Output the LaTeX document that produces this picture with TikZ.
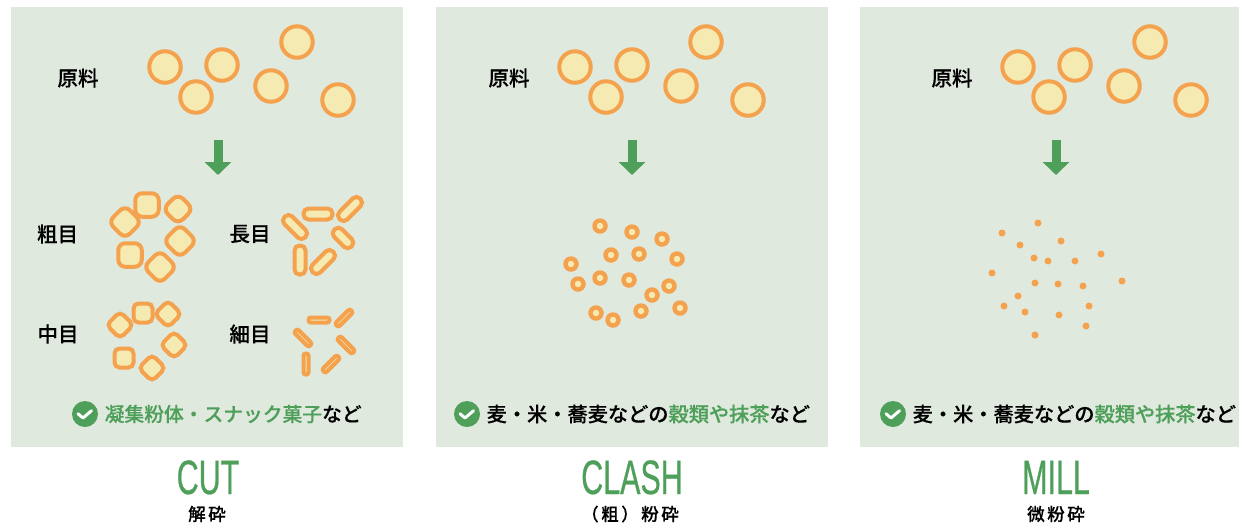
\documentclass[tikz,border=0pt]{standalone}
\usepackage{fontspec}
\setmainfont{Noto Sans CJK JP}[BoldFont={Noto Sans CJK JP Medium},BoldFeatures={FakeBold=0.25}]
\newfontfamily\titlefont[FakeStretch=0.63,FakeBold=0.5]{Liberation Sans}
\usetikzlibrary{arrows.meta,positioning}
\definecolor{pgpanel}{RGB}{224,233,222}
\definecolor{pggreen}{RGB}{78,159,89}
\definecolor{pgorange}{RGB}{244,162,78}
\definecolor{pgyellow}{RGB}{245,234,178}
\tikzstyle{panel} = [rectangle, anchor=north west, fill=pgpanel, minimum height=8.8cm, minimum width=7.84cm, inner sep=0]
\tikzstyle{grain} = [draw=pgorange, fill=pgyellow, line width=0.08cm, inner sep=0]
\tikzstyle{rawgrain} = [grain, circle, minimum size=0.63cm]
\tikzstyle{coarse} = [grain, rectangle, rounded corners=0.14cm, minimum size=0.47cm]
\tikzstyle{medium} = [grain, rectangle, rounded corners=0.1cm, minimum size=0.38cm]
\tikzstyle{longgrain} = [grain, rectangle, rounded corners=0.1cm, minimum width=0.58cm, minimum height=0.22cm]
\tikzstyle{shortgrain} = [longgrain, minimum width=0.48cm]
\tikzstyle{thingrain} = [grain, rectangle, rounded corners=0.045cm, minimum width=0.42cm, minimum height=0.1cm]
\tikzstyle{ring} = [circle, fill=pgorange, inner sep=0, minimum size=0.31cm, path picture={\fill[pgyellow] (path picture bounding box.center) circle (0.065cm);}]
\tikzstyle{speck} = [circle, fill=pgorange, inner sep=0, minimum size=0.14cm]
\tikzstyle{flow} = [line width=0.18cm, color=pggreen, -{Triangle[width=0.52cm,length=0.26cm]}]
\tikzstyle{gradename} = [font=\fontsize{11.7}{14}\selectfont\bfseries, text=black, inner sep=0]
\tikzstyle{check} = [circle, fill=pggreen, inner sep=0, minimum size=0.52cm]
\tikzstyle{tickmark} = [white, line width=0.06cm, line cap=round, line join=round]
\tikzstyle{uses} = [font=\fontsize{11.5}{14}\selectfont\bfseries, text=black, inner sep=0, right=0.12cm of #1]
\tikzstyle{bigtitle} = [font=\titlefont\fontsize{27.5}{30}\selectfont, text=pggreen, anchor=base, inner sep=0]
\tikzstyle{subtitle} = [font=\fontsize{10}{12}\selectfont\bfseries\addfontfeature{LetterSpace=14}, text=black, inner sep=0]
\newcommand{\tick}[1]{\draw[tickmark] ([shift={(-7,-0.3)}]#1.center) -- ([shift={(-2,4)}]#1.center) -- ([shift={(6.5,-3.3)}]#1.center);}
\begin{document}
\begin{tikzpicture}[x=0.02cm, y=-0.02cm]
\useasboundingbox (0,0) rectangle (1239,528);

% Panels
\node (cutpanel) [panel] at (11,7) {};
\node (clashpanel) [panel] at (436,7) {};
\node (millpanel) [panel, minimum width=7.58cm] at (860,7) {};

% CUT: raw material
\node (cutname) [gradename] at (78,78) {原料};
\node (cutraw1) [rawgrain] at (165,67) {};
\node (cutraw2) [rawgrain] at (222,65) {};
\node (cutraw3) [rawgrain] at (196,97) {};
\node (cutraw4) [rawgrain] at (297,42) {};
\node (cutraw5) [rawgrain] at (271,86) {};
\node (cutraw6) [rawgrain] at (338,100) {};
\coordinate (cutfrom) at (218,140);
\coordinate (cutto) at (218,175);
\draw[flow] (cutfrom) -- (cutto);

% CUT: coarse
\node (coarsename) [gradename] at (57.5,234) {粗目};
\node (coarse1) [coarse] at (147,205) {};
\node (coarse2) [coarse, rotate=45] at (125,222) {};
\node (coarse3) [coarse, rotate=45, minimum size=0.43cm] at (178,209) {};
\node (coarse4) [coarse, rotate=45] at (180,241) {};
\node (coarse5) [coarse] at (130,255) {};
\node (coarse6) [coarse, rotate=45] at (160,267) {};

% CUT: long
\node (longname) [gradename] at (250,234) {長目};
\node (long1) [longgrain] at (318,214) {};
\node (long2) [longgrain, rotate=45] at (350,209) {};
\node (long3) [longgrain, rotate=-45] at (295,227) {};
\node (long4) [shortgrain, rotate=-45] at (343,238) {};
\node (long5) [longgrain, rotate=90] at (300,260) {};
\node (long6) [longgrain, rotate=45] at (323,262) {};

% CUT: medium
\node (mediumname) [gradename] at (58,334) {中目};
\node (medium1) [medium] at (143,313) {};
\node (medium2) [medium, rotate=45] at (120,325) {};
\node (medium3) [medium, rotate=45] at (168,314) {};
\node (medium4) [medium, rotate=45] at (174,345) {};
\node (medium5) [medium] at (124,358) {};
\node (medium6) [medium, rotate=45] at (152,368) {};

% CUT: fine
\node (finename) [gradename] at (250,334) {細目};
\node (fine1) [thingrain] at (319,320) {};
\node (fine2) [thingrain, rotate=45] at (344,318) {};
\node (fine3) [thingrain, rotate=-45] at (303,338) {};
\node (fine4) [thingrain, rotate=-45] at (346,345) {};
\node (fine5) [thingrain, rotate=90] at (306,364) {};
\node (fine6) [thingrain, rotate=45] at (331,364) {};

% CUT: uses and title
\node (cutcheck) [check] at (85,414) {};
\tick{cutcheck}
\node (cutuses) [uses=cutcheck, font=\fontsize{11.25}{14}\selectfont\bfseries] {\textcolor{pggreen}{凝集粉体・スナック菓子}など};
\node (cuttitle) [bigtitle] at (208,494) {CUT};
\node (cutsub) [subtitle] at (207,514) {解砕};

% CLASH: raw material
\node (clashname) [gradename] at (509,78) {原料};
\node (clashraw1) [rawgrain] at (575,67) {};
\node (clashraw2) [rawgrain] at (632,65) {};
\node (clashraw3) [rawgrain] at (606,97) {};
\node (clashraw4) [rawgrain] at (706,42) {};
\node (clashraw5) [rawgrain] at (681,86) {};
\node (clashraw6) [rawgrain] at (748,100) {};
\coordinate (clashfrom) at (632,140);
\coordinate (clashto) at (632,175);
\draw[flow] (clashfrom) -- (clashto);

% CLASH: rings
\node (ring1) [ring] at (600,226) {};
\node (ring2) [ring] at (632,232) {};
\node (ring3) [ring] at (662,239) {};
\node (ring4) [ring] at (611,255) {};
\node (ring5) [ring] at (639,254) {};
\node (ring6) [ring] at (677,259) {};
\node (ring7) [ring] at (571,264) {};
\node (ring8) [ring] at (578,284) {};
\node (ring9) [ring] at (600,278) {};
\node (ring10) [ring] at (629,280) {};
\node (ring11) [ring] at (669,286) {};
\node (ring12) [ring] at (652,295) {};
\node (ring13) [ring] at (680,308) {};
\node (ring14) [ring] at (596,313) {};
\node (ring15) [ring] at (613,320) {};
\node (ring16) [ring] at (641,311) {};

% CLASH: uses and title
\node (clashcheck) [check] at (467,414) {};
\tick{clashcheck}
\node (clashuses) [uses=clashcheck] {麦・米・蕎麦などの\textcolor{pggreen}{穀類や抹茶}など};
\node (clashtitle) [bigtitle] at (632,494) {CLASH};
\node (clashsub) [subtitle] at (630,514) {（粗）粉砕};

% MILL: raw material
\node (millname) [gradename] at (952,78) {原料};
\node (millraw1) [rawgrain] at (1018,67) {};
\node (millraw2) [rawgrain] at (1075,65) {};
\node (millraw3) [rawgrain] at (1049,97) {};
\node (millraw4) [rawgrain] at (1150,42) {};
\node (millraw5) [rawgrain] at (1124,86) {};
\node (millraw6) [rawgrain] at (1191,100) {};
\coordinate (millfrom) at (1056,140);
\coordinate (millto) at (1056,175);
\draw[flow] (millfrom) -- (millto);

% MILL: specks
\node (speck1) [speck] at (1002,233) {};
\node (speck2) [speck] at (1038,223) {};
\node (speck3) [speck] at (1020,245) {};
\node (speck4) [speck] at (1061,241) {};
\node (speck5) [speck] at (1034,258) {};
\node (speck6) [speck] at (1048,261) {};
\node (speck7) [speck] at (1075,261) {};
\node (speck8) [speck] at (1101,254) {};
\node (speck9) [speck] at (992,273) {};
\node (speck10) [speck] at (1035,283) {};
\node (speck11) [speck] at (1058,284) {};
\node (speck12) [speck] at (1083,286) {};
\node (speck13) [speck] at (1122,281) {};
\node (speck14) [speck] at (1018,296) {};
\node (speck15) [speck] at (1004,306) {};
\node (speck16) [speck] at (1025,312) {};
\node (speck17) [speck] at (1059,315) {};
\node (speck18) [speck] at (1089,306) {};
\node (speck19) [speck] at (1086,326) {};
\node (speck20) [speck] at (1035,335) {};

% MILL: uses and title
\node (millcheck) [check] at (893,414) {};
\tick{millcheck}
\node (milluses) [uses=millcheck] {麦・米・蕎麦などの\textcolor{pggreen}{穀類や抹茶}など};
\node (milltitle) [bigtitle] at (1056,494) {MILL};
\node (millsub) [subtitle] at (1056,514) {微粉砕};
\end{tikzpicture}
\end{document}
